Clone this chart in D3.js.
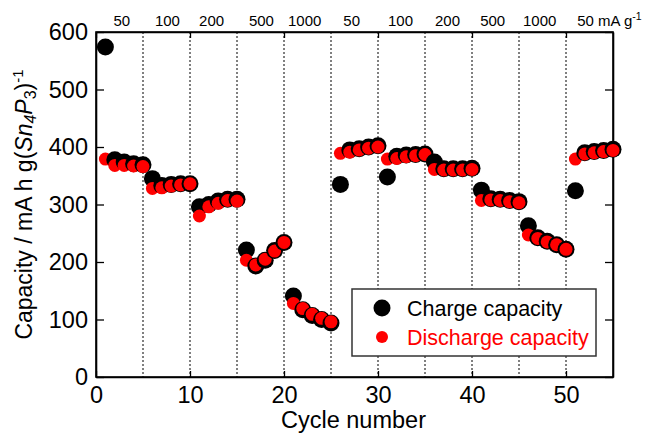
<!DOCTYPE html>
<html>
<head>
<meta charset="utf-8">
<script src="https://cdn.jsdelivr.net/npm/d3@7"></script>
<style>
  body { margin: 0; background: #fff; }
  svg { font-family: "Liberation Sans", Arial, sans-serif; }
</style>
</head>
<body>
<svg class="svg" width="651" height="441"></svg>
<script>
// cycle numbers 1..55
const cycles = d3.range(1, 56);

// charge capacity (mA h g-1)
const charge = [
  574, 378, 374, 371, 369,
  345, 333, 335, 336, 336,
  296, 300, 306, 309, 309,
  221, 193, 203, 220, 234,
  141, 117, 107, 100, 94,
  335, 395, 397, 400, 402,
  348, 384, 386, 387, 388,
  374, 362, 362, 362, 363,
  325, 310, 309, 307, 305,
  263, 242, 236, 230, 222,
  324, 390, 392, 394, 396
];

// discharge capacity
const discharge = [
  379, 368, 368, 367, 366,
  328, 329, 332, 334, 336,
  280, 296, 302, 307, 306,
  203, 195, 205, 219, 234,
  128, 119, 109, 102, 96,
  389, 391, 395, 398, 400,
  379, 380, 383, 385, 387,
  361, 360, 360, 360, 361,
  307, 308, 307, 305, 303,
  247, 241, 235, 230, 222,
  379, 388, 390, 392, 394
];

// current density labels along the top
const rateLabels = ["50", "100", "200", "500", "1000", "50", "100", "200", "500", "1000"];
const ratePos = [2.75, 7.6, 12.3, 17.6, 22.2, 27.2, 32.4, 37.4, 42.2, 47.2];
const dividers = [5, 10, 15, 20, 25, 30, 35, 40, 45, 50];

const xTicks = [0, 10, 20, 30, 40, 50];
const yTicks = [0, 100, 200, 300, 400, 500, 600];

const svg = d3.select(".svg");
const pL = 96, pR = 613, pT = 32, pB = 377;

const x = d3.scaleLinear().domain([0, 55]).range([pL, pR]);
const y = d3.scaleLinear().domain([0, 600]).range([pB, pT]);

// dashed dividers between rate steps
svg.selectAll(".div")
  .data(dividers)
  .enter()
  .append("line")
  .attr("x1", d => x(d)).attr("x2", d => x(d))
  .attr("y1", pT).attr("y2", pB)
  .attr("stroke", "#000")
  .attr("stroke-width", 1)
  .attr("stroke-dasharray", "2,2");

// axes, ticks pointing inward
const ax = svg.append("g");

ax.append("g")
  .attr("transform", `translate(0,${pB})`)
  .call(d3.axisBottom(x).tickValues(xTicks).tickSizeInner(-6).tickSizeOuter(0).tickPadding(9).tickFormat(d3.format("d")));
ax.append("g")
  .attr("transform", `translate(0,${pT})`)
  .call(d3.axisTop(x).tickValues(xTicks).tickSizeInner(-6).tickSizeOuter(0).tickFormat(""));
ax.append("g")
  .attr("transform", `translate(${pL},0)`)
  .call(d3.axisLeft(y).tickValues(yTicks).tickSizeInner(-8).tickSizeOuter(0).tickPadding(8));
ax.append("g")
  .attr("transform", `translate(${pR},0)`)
  .call(d3.axisRight(y).tickValues(yTicks).tickSizeInner(-8).tickSizeOuter(0).tickFormat(""));

ax.selectAll("g").attr("font-size", 23.5).attr("font-family", "Liberation Sans, Arial, sans-serif");
ax.selectAll(".domain").attr("stroke", "#000").attr("stroke-width", 1.6);
ax.selectAll(".tick line").attr("stroke", "#000").attr("stroke-width", 1.3);
ax.selectAll(".tick text").attr("fill", "#000");

// closing frame
svg.append("rect")
  .attr("x", pL).attr("y", pT)
  .attr("width", pR - pL).attr("height", pB - pT)
  .attr("fill", "none").attr("stroke", "#000").attr("stroke-width", 1.6);

// markers: per cycle black charge then red discharge on top
const pts = svg.selectAll(".pt")
  .data(cycles)
  .enter()
  .append("g")
  .attr("class", "pt");

pts.append("circle")
  .attr("cx", d => x(d))
  .attr("cy", (d, i) => y(charge[i]))
  .attr("r", 8.5)
  .attr("fill", "#000");

pts.append("circle")
  .attr("cx", d => x(d))
  .attr("cy", (d, i) => y(discharge[i]))
  .attr("r", 6.5)
  .attr("fill", "#ff0000");

// rate labels on top
svg.selectAll(".rate")
  .data(rateLabels)
  .enter()
  .append("text")
  .attr("x", (d, i) => x(ratePos[i]))
  .attr("y", 26)
  .attr("text-anchor", "middle")
  .attr("font-size", 15)
  .text(d => d);

const last = svg.append("text")
  .attr("x", x(51.2))
  .attr("y", 26)
  .attr("font-size", 15);
last.append("tspan").text("50 mA g");
last.append("tspan").attr("dy", -6).attr("font-size", 10.5).text("-1");

// axis titles
svg.append("text")
  .attr("x", (pL + pR) / 2 - 1)
  .attr("y", 428)
  .attr("text-anchor", "middle")
  .attr("font-size", 23.5)
  .text("Cycle number");

const yl = svg.append("text")
  .attr("transform", `translate(32,${(pT + pB) / 2}) rotate(-90)`)
  .attr("text-anchor", "middle")
  .attr("font-size", 23);
yl.append("tspan").text("Capacity / mA h g(");
yl.append("tspan").attr("font-style", "italic").text("Sn");
yl.append("tspan").attr("font-style", "italic").attr("font-size", 16).attr("dy", 4).text("4");
yl.append("tspan").attr("font-style", "italic").attr("dy", -4).text("P");
yl.append("tspan").attr("font-size", 16).attr("dy", 4).text("3");
yl.append("tspan").attr("dy", -4).text(")");
yl.append("tspan").attr("font-size", 15).attr("dy", -9).text("-1");

// legend
const lg = svg.append("g");
lg.append("rect")
  .attr("x", 352).attr("y", 289)
  .attr("width", 244).attr("height", 67)
  .attr("fill", "#fff")
  .attr("stroke", "#333").attr("stroke-width", 1.5);
lg.append("circle").attr("cx", 382).attr("cy", 308).attr("r", 8.5).attr("fill", "#000");
lg.append("circle").attr("cx", 382).attr("cy", 337).attr("r", 6).attr("fill", "#ff0000");
lg.append("text").attr("x", 407).attr("y", 316).attr("font-size", 21.5).attr("fill", "#000").text("Charge capacity");
lg.append("text").attr("x", 407).attr("y", 345).attr("font-size", 21.5).attr("fill", "#ff0000").text("Discharge capacity");
</script>
</body>
</html>
